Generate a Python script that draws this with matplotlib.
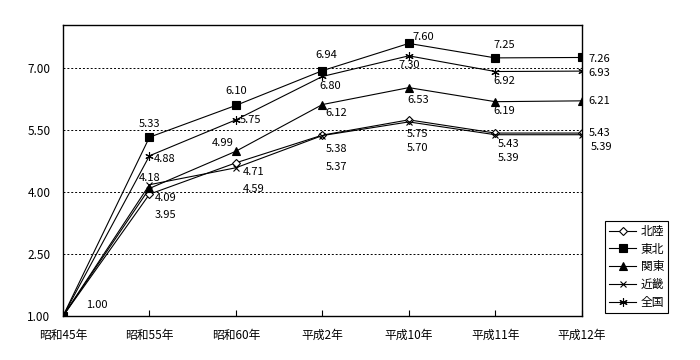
"""
Index chart by region (昭和45年 = 1.00), redrawn from the reference picture.
"""

import matplotlib
matplotlib.use("Agg")  # write files without a display
import matplotlib.pyplot as plt

plt.rcParams["font.family"] = ["Noto Sans CJK JP", "DejaVu Sans"]

years = ["昭和45年", "昭和55年", "昭和60年", "平成2年", "平成10年", "平成11年", "平成12年"]
hokuriku = [1.00, 3.95, 4.71, 5.38, 5.75, 5.43, 5.43]
tohoku = [1.00, 5.33, 6.10, 6.94, 7.60, 7.25, 7.26]
kanto = [1.00, 4.09, 4.99, 6.12, 6.53, 6.19, 6.21]
kinki = [1.00, 4.18, 4.59, 5.37, 5.70, 5.39, 5.39]
zenkoku = [1.00, 4.88, 5.75, 6.80, 7.30, 6.92, 6.93]
y_ticks = [1.00, 2.50, 4.00, 5.50, 7.00]

# label placement per point: (dx, dy in pixels, ha), None = no label
L, C = "left", "center"
lab_hokuriku = [None, (5, -21, L), (7, -9, L), (14, -14, C), (9, -14, C), (13, -11, C), (7, 0, L)]
lab_tohoku = [(34, 11, C), (0, 13, C), (0, 14, C), (4, 16, C), (4, 6, L), (9, 13, C), (7, -2, L)]
lab_kanto = [None, (5, -10, L), (-13, 8, C), (14, -8, C), (9, -12, C), (9, -9, C), (7, 0, L)]
lab_kinki = [None, (0, 7, C), (7, -21, L), (14, -31, C), (9, -26, C), (13, -23, C), (9, -12, L)]
lab_zenkoku = [None, (4, -3, L), (4, 0, L), (8, -10, C), (0, -9, C), (9, -9, C), (7, -2, L)]

series = [
    ("北陸", hokuriku, dict(marker="D", markersize=4.5, mfc="white"), lab_hokuriku),
    ("東北", tohoku, dict(marker="s", markersize=5.5, mfc="black"), lab_tohoku),
    ("関東", kanto, dict(marker="^", markersize=6, mfc="black"), lab_kanto),
    ("近畿", kinki, dict(marker="x", markersize=5), lab_kinki),
    ("全国", zenkoku, dict(marker=(6, 2, 0), markersize=6), lab_zenkoku),
]

fig = plt.figure(figsize=(7, 3.6), dpi=100)
ax = fig.add_axes([0.09, 0.122, 0.741, 0.809])

x = list(range(len(years)))
for name, vals, style, labs in series:
    ax.plot(x, vals, color="black", linewidth=0.8, mec="black", mew=0.8,
            label=name, **style)
    for xi, v, lab in zip(x, vals, labs):
        if lab is None:
            continue
        dx, dy, ha = lab
        ax.annotate(f"{v:.2f}", (xi, v), xytext=(dx, dy), textcoords="offset pixels",
                    ha=ha, va="center", fontsize=8)

ax.set_xlim(0, len(years) - 1)
ax.set_ylim(1.0, 8.05)
ax.set_xticks(x)
ax.set_xticklabels(years, fontsize=8.5)
ax.set_yticks(y_ticks)
ax.set_yticklabels([f"{t:.2f}" for t in y_ticks], fontsize=8.5)
ax.tick_params(axis="x", direction="in", length=4, pad=9)
ax.tick_params(axis="y", length=0, pad=9)
for t in y_ticks[1:]:
    ax.axhline(t, color="black", linewidth=0.7, linestyle=(0, (2, 2)), zorder=0)
for s in ax.spines.values():
    s.set_linewidth(1.0)

leg = ax.legend(loc="lower left", bbox_to_anchor=(0.864, 0.131),
                bbox_transform=fig.transFigure, borderaxespad=0,
                fontsize=8.5, handlelength=2.3,
                fancybox=False, edgecolor="black", framealpha=1,
                borderpad=0.35, labelspacing=0.4, handletextpad=0.4)
leg.get_frame().set_linewidth(0.8)

fig.savefig("out.png", dpi=100)
